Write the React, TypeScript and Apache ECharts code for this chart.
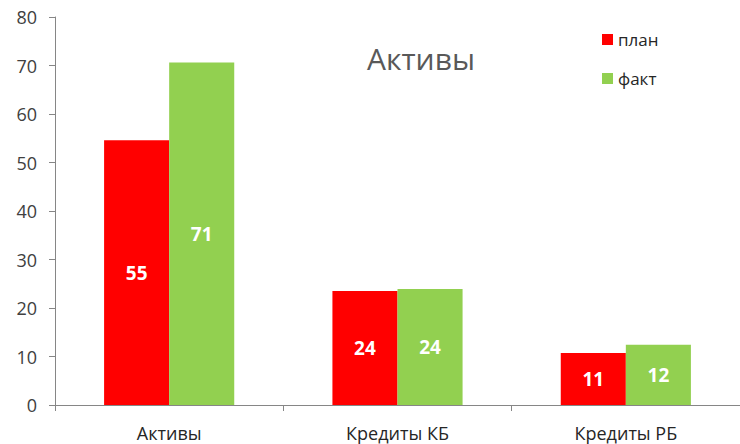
import React, { useEffect, useRef } from "react";
import * as echarts from "echarts";

const categories = ["Активы", "Кредиты КБ", "Кредиты РБ"];
const planValues = [54.6, 23.5, 10.7];
const factValues = [70.6, 23.9, 12.4];
const seriesNames = ["план", "факт"];
const titleText = "Активы";

export default function App() {
  const ref = useRef<HTMLDivElement>(null);
  useEffect(() => {
    const chart = echarts.init(ref.current!, undefined, { renderer: "svg" });
    const font = "Open Sans";
    const labelCfg = {
      show: true,
      position: "inside",
      color: "#ffffff",
      fontWeight: "bold",
      fontSize: 19,
      fontFamily: font,
      formatter: (p: any) => String(Math.round(p.value)),
    };
    chart.setOption({
      animation: false,
      backgroundColor: "#ffffff",
      title: {
        text: titleText,
        left: 416,
        top: 38,
        textAlign: "center",
        textStyle: { color: "#595959", fontSize: 30, fontWeight: "normal", fontFamily: font },
      },
      legend: {
        orient: "vertical",
        left: 597,
        top: 26,
        itemWidth: 11,
        itemHeight: 11,
        itemGap: 22,
        icon: "rect",
        textStyle: { color: "#262626", fontSize: 17, fontFamily: font },
        data: seriesNames,
      },
      grid: { left: 55, right: 0, top: 17, bottom: 39, containLabel: false },
      xAxis: {
        type: "category",
        data: categories,
        axisLine: { lineStyle: { color: "#868686" } },
        axisTick: { show: true, length: 6, lineStyle: { color: "#868686" } },
        axisLabel: { color: "#262626", fontSize: 18, fontFamily: font, margin: 19 },
      },
      yAxis: {
        type: "value",
        min: 0,
        max: 80,
        interval: 10,
        axisLine: { show: true, lineStyle: { color: "#868686" } },
        axisTick: { show: true, length: 6, lineStyle: { color: "#868686" } },
        splitLine: { show: false },
        axisLabel: { color: "#404040", fontSize: 18, fontFamily: font, margin: 18 },
      },
      series: [
        {
          name: seriesNames[0],
          type: "bar",
          data: planValues,
          itemStyle: { color: "#ff0000" },
          barGap: "0%",
          barCategoryGap: "43%",
          label: labelCfg,
        },
        {
          name: seriesNames[1],
          type: "bar",
          data: factValues,
          itemStyle: { color: "#92d050" },
          barGap: "0%",
          barCategoryGap: "43%",
          label: labelCfg,
        },
      ],
    });
    return () => chart.dispose();
  }, []);
  return <div ref={ref} style={{ width: 740, height: 444, position: "absolute", left: 0, top: 0 }} />;
}
